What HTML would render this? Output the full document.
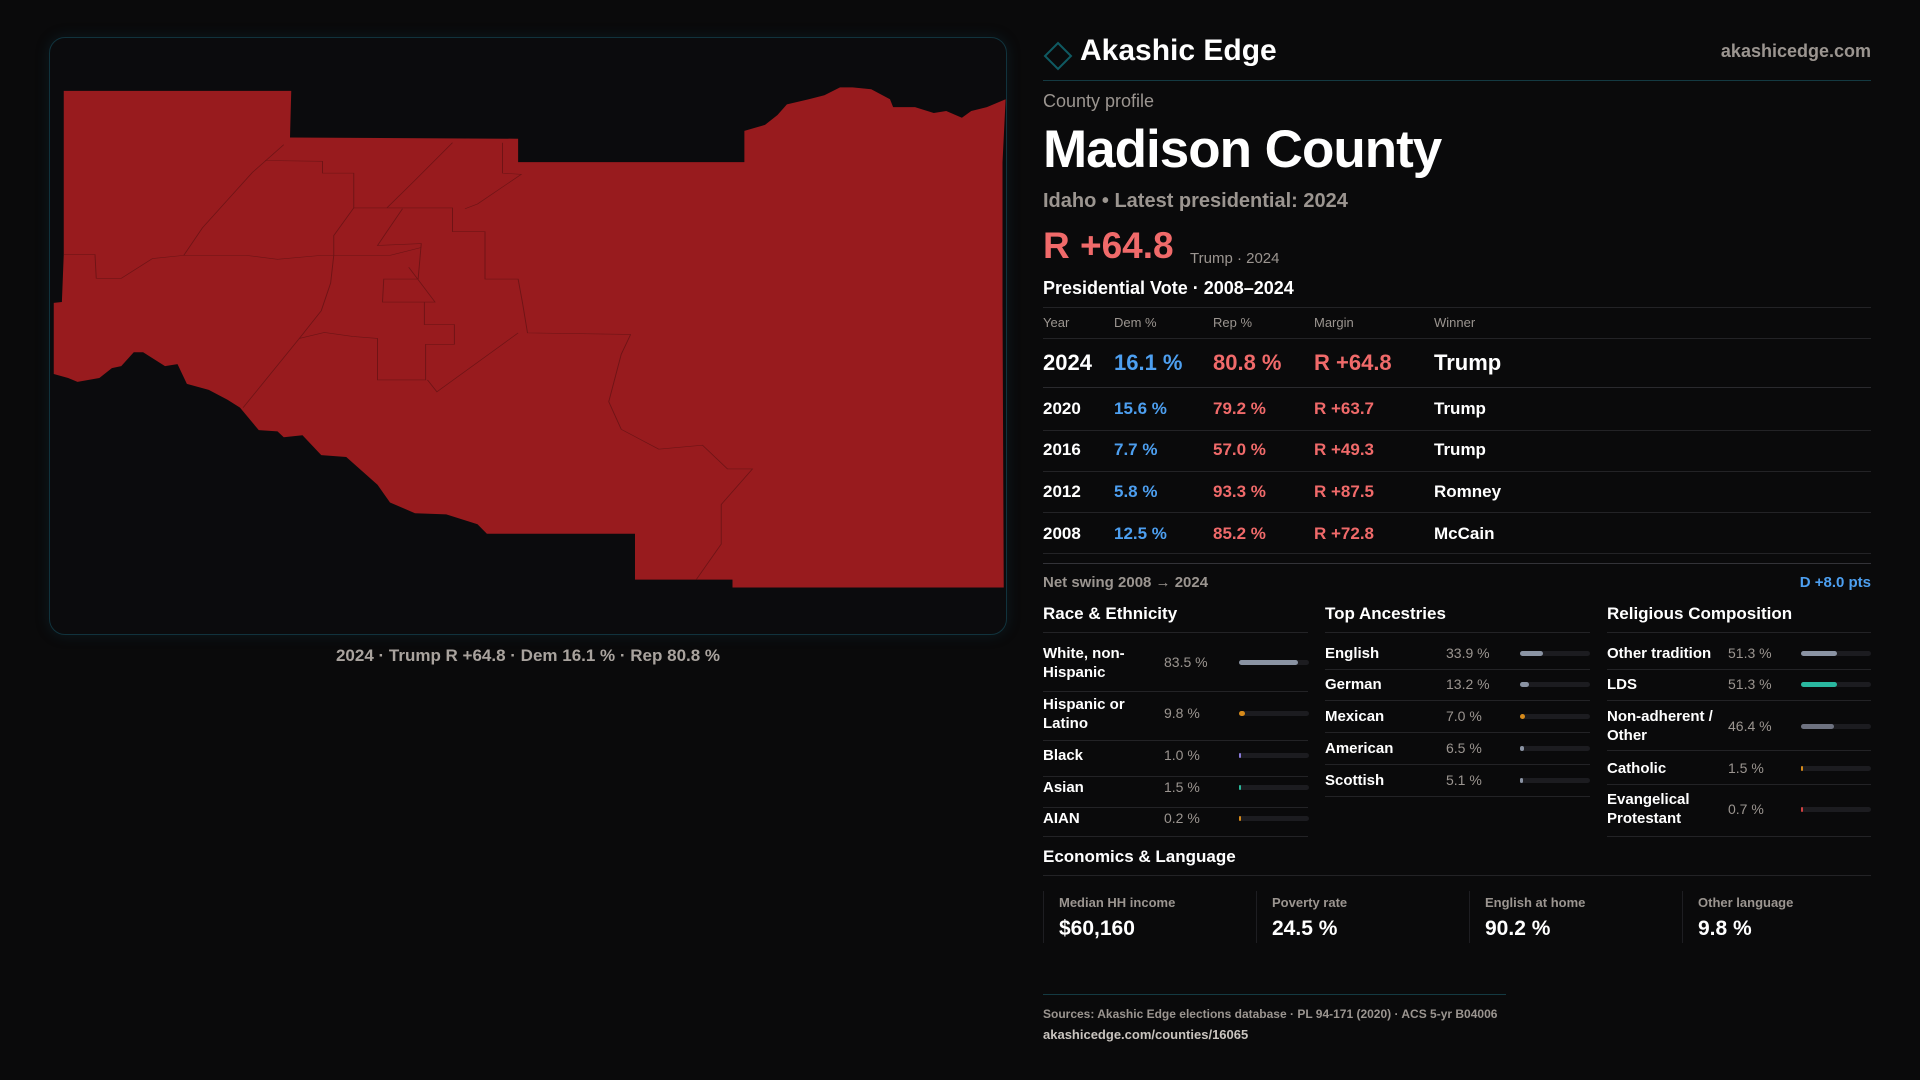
<!DOCTYPE html>
<html><head><meta charset="utf-8"><style>
*{margin:0;padding:0;box-sizing:border-box}
body{width:1920px;height:1080px;background:#0a0a0b;position:relative;overflow:hidden;font-family:"Liberation Sans",sans-serif;color:#fff}
.a{position:absolute;white-space:nowrap}
.g{color:#9b9590}
.r{color:#f06a6a}
.b{color:#4d9ff0}
.ln{position:absolute;height:1px;background:#232326}
.t{position:absolute;height:5px;border-radius:3px;background:#1c1c20;width:70px}
.f{position:absolute;left:0;top:0;height:5px;border-radius:3px}
.lab{font-size:15px;line-height:19px;font-weight:bold}
.val{font-size:14px;color:#9b9590}
</style></head><body>
<div class="a" style="left:49px;top:37px;width:958px;height:598px;border:1px solid #11333d;border-radius:16px;background:#0b0b0d;box-shadow:0 0 14px rgba(20,70,90,0.25)"></div>
<svg class="a" style="left:40px;top:30px" width="980" height="620" viewBox="0 0 1568 1568" preserveAspectRatio="none">
<path fill="#981b1e" d="M38,154 L402,154 L400,272 L765,275 L765,334 L1127,334 L1127,255 L1160,240 L1180,215 L1195,188 L1230,175 L1255,165 L1280,145 L1300,145 L1330,150 L1360,175 L1365,195 L1400,195 L1430,210 L1450,205 L1475,222 L1490,205 L1515,195 L1545,175 L1540,335 L1540,690 L1542,1410 L1108,1410 L1108,1390 L952,1390 L952,1274 L715,1274 L700,1250 L650,1225 L600,1222 L560,1195 L540,1150 L490,1080 L450,1075 L420,1025 L390,1030 L380,1015 L350,1012 L320,955 L300,935 L270,910 L235,895 L220,845 L200,850 L165,815 L150,815 L130,850 L115,855 L95,880 L60,890 L45,880 L22,870 L22,690 L35,688 L38,568 Z"/>
<g fill="none" stroke="#6e1416" stroke-width="1.5">
<path d="M38,568 L88,568 L90,628 L130,628 L180,578 L230,570 L330,570 L380,580 L450,570 L560,570 L610,550"/>
<path d="M230,570 L260,500 L300,430 L340,360 L390,290"/>
<path d="M360,330 L452,332 L452,362 L502,362 L502,450 L660,450 L660,510 L712,510 L712,630 L765,630 L772,690 L780,766 L945,770"/>
<path d="M502,450 L470,520 L470,570 L465,640 L450,710 L415,780 L325,955"/>
<path d="M580,452 L555,510 L540,545 L610,540 L605,630 L550,630 L548,688 L632,688 L590,600"/>
<path d="M615,688 L615,745 L663,745 L663,795 L617,795 L617,885 L540,885 L540,780 L500,775 L455,765 L415,780"/>
<path d="M765,766 L740,795 L635,915 L620,885"/>
<path d="M945,770 L930,820 L910,940 L930,1010 L990,1060 L1060,1050 L1100,1110 L1140,1110 L1090,1200 L1090,1300 L1050,1390"/>
<path d="M555,450 L600,380 L660,285 M740,285 L740,362 L770,365 L700,440 L680,452"/>
</g></svg>
<div class="a" style="left:0;width:1056px;top:646px;text-align:center;font-size:17px;font-weight:bold;color:#a9a39e">2024 · Trump R +64.8 · Dem 16.1 % · Rep 80.8 %</div>

<svg class="a" style="left:1043px;top:41px" width="30" height="30"><path d="M15,2 L28,15 L15,28 L2,15 Z" fill="none" stroke="#0f5a62" stroke-width="2"/></svg>
<div class="a" style="left:1080px;top:34px;font-size:30px;font-weight:bold">Akashic Edge</div>
<div class="a g" style="right:49px;top:41px;font-size:18px;font-weight:bold">akashicedge.com</div>
<div class="ln" style="left:1043px;width:828px;top:80px;background:#143a42"></div>
<div class="a g" style="left:1043px;top:91px;font-size:18px">County profile</div>
<div class="a" style="left:1043px;top:119px;font-size:53px;font-weight:bold;letter-spacing:-1px">Madison County</div>
<div class="a g" style="left:1043px;top:190px;font-size:20px;font-weight:bold">Idaho • Latest presidential: 2024</div>
<div class="a r" style="left:1043px;top:225px;font-size:37px;font-weight:bold">R +64.8</div>
<div class="a g" style="left:1190px;top:250px;font-size:15px">Trump · 2024</div>
<div class="a" style="left:1043px;top:278px;font-size:18px;font-weight:bold">Presidential Vote · 2008–2024</div>
<div class="ln" style="left:1043px;width:828px;top:307px"></div>
<div class="a g" style="left:1043px;top:315px;font-size:13px">Year</div>
<div class="a g" style="left:1114px;top:315px;font-size:13px">Dem %</div>
<div class="a g" style="left:1213px;top:315px;font-size:13px">Rep %</div>
<div class="a g" style="left:1314px;top:315px;font-size:13px">Margin</div>
<div class="a g" style="left:1434px;top:315px;font-size:13px">Winner</div>
<div class="ln" style="left:1043px;width:828px;top:338px"></div>
<div class="a" style="left:1043px;top:350px;font-size:22px;font-weight:bold">2024</div>
<div class="a b" style="left:1114px;top:350px;font-size:22px;font-weight:bold">16.1 %</div>
<div class="a r" style="left:1213px;top:350px;font-size:22px;font-weight:bold">80.8 %</div>
<div class="a r" style="left:1314px;top:350px;font-size:22px;font-weight:bold">R +64.8</div>
<div class="a" style="left:1434px;top:350px;font-size:22px;font-weight:bold">Trump</div>
<div class="ln" style="left:1043px;width:828px;top:387px;background:#2a2a2e"></div>

<div class="a" style="left:1043px;top:399px;font-size:17px;font-weight:bold">2020</div>
<div class="a b" style="left:1114px;top:399px;font-size:17px;font-weight:bold">15.6 %</div>
<div class="a r" style="left:1213px;top:399px;font-size:17px;font-weight:bold">79.2 %</div>
<div class="a r" style="left:1314px;top:399px;font-size:17px;font-weight:bold">R +63.7</div>
<div class="a" style="left:1434px;top:399px;font-size:17px;font-weight:bold">Trump</div>
<div class="ln" style="left:1043px;width:828px;top:430px"></div>
<div class="a" style="left:1043px;top:440px;font-size:17px;font-weight:bold">2016</div>
<div class="a b" style="left:1114px;top:440px;font-size:17px;font-weight:bold">7.7 %</div>
<div class="a r" style="left:1213px;top:440px;font-size:17px;font-weight:bold">57.0 %</div>
<div class="a r" style="left:1314px;top:440px;font-size:17px;font-weight:bold">R +49.3</div>
<div class="a" style="left:1434px;top:440px;font-size:17px;font-weight:bold">Trump</div>
<div class="ln" style="left:1043px;width:828px;top:471px"></div>
<div class="a" style="left:1043px;top:482px;font-size:17px;font-weight:bold">2012</div>
<div class="a b" style="left:1114px;top:482px;font-size:17px;font-weight:bold">5.8 %</div>
<div class="a r" style="left:1213px;top:482px;font-size:17px;font-weight:bold">93.3 %</div>
<div class="a r" style="left:1314px;top:482px;font-size:17px;font-weight:bold">R +87.5</div>
<div class="a" style="left:1434px;top:482px;font-size:17px;font-weight:bold">Romney</div>
<div class="ln" style="left:1043px;width:828px;top:512px"></div>
<div class="a" style="left:1043px;top:524px;font-size:17px;font-weight:bold">2008</div>
<div class="a b" style="left:1114px;top:524px;font-size:17px;font-weight:bold">12.5 %</div>
<div class="a r" style="left:1213px;top:524px;font-size:17px;font-weight:bold">85.2 %</div>
<div class="a r" style="left:1314px;top:524px;font-size:17px;font-weight:bold">R +72.8</div>
<div class="a" style="left:1434px;top:524px;font-size:17px;font-weight:bold">McCain</div>
<div class="ln" style="left:1043px;width:828px;top:553px"></div>
<div class="ln" style="left:1043px;width:828px;top:563px;background:#333338"></div>
<div class="a g" style="left:1043px;top:574px;font-size:15px;font-weight:bold">Net swing 2008 → 2024</div>
<div class="a b" style="right:49px;top:574px;font-size:15px;font-weight:bold">D +8.0 pts</div>

<div class="a" style="left:1043px;top:604px;font-size:17px;font-weight:bold">Race &amp; Ethnicity</div>
<div class="a" style="left:1325px;top:604px;font-size:17px;font-weight:bold">Top Ancestries</div>
<div class="a" style="left:1607px;top:604px;font-size:17px;font-weight:bold">Religious Composition</div>
<div class="ln" style="left:1043px;width:265px;top:632px"></div>
<div class="ln" style="left:1325px;width:265px;top:632px"></div>
<div class="ln" style="left:1607px;width:264px;top:632px"></div>

<div class="a lab" style="left:1043px;top:644px">White, non-<br>Hispanic</div><div class="a val" style="left:1164px;top:654px">83.5 %</div><div class="t" style="left:1239px;top:660px"><div class="f" style="width:59px;background:#8a93a3"></div></div>
<div class="ln" style="left:1043px;width:265px;top:691px"></div>
<div class="a lab" style="left:1043px;top:695px">Hispanic or<br>Latino</div><div class="a val" style="left:1164px;top:705px">9.8 %</div><div class="t" style="left:1239px;top:711px"><div class="f" style="width:6px;background:#d68a1a"></div></div>
<div class="ln" style="left:1043px;width:265px;top:740px"></div>
<div class="a lab" style="left:1043px;top:746px">Black</div><div class="a val" style="left:1164px;top:747px">1.0 %</div><div class="t" style="left:1239px;top:753px"><div class="f" style="width:2px;background:#8a7ad8"></div></div>
<div class="ln" style="left:1043px;width:265px;top:776px"></div>
<div class="a lab" style="left:1043px;top:778px">Asian</div><div class="a val" style="left:1164px;top:779px">1.5 %</div><div class="t" style="left:1239px;top:785px"><div class="f" style="width:2px;background:#2ab89a"></div></div>
<div class="ln" style="left:1043px;width:265px;top:807px"></div>
<div class="a lab" style="left:1043px;top:809px">AIAN</div><div class="a val" style="left:1164px;top:810px">0.2 %</div><div class="t" style="left:1239px;top:816px"><div class="f" style="width:2px;background:#d68a1a"></div></div>
<div class="ln" style="left:1043px;width:265px;top:836px"></div>

<div class="a lab" style="left:1325px;top:644px">English</div><div class="a val" style="left:1446px;top:645px">33.9 %</div><div class="t" style="left:1520px;top:651px"><div class="f" style="width:23px;background:#8a93a3"></div></div>
<div class="ln" style="left:1325px;width:265px;top:669px"></div>
<div class="a lab" style="left:1325px;top:675px">German</div><div class="a val" style="left:1446px;top:676px">13.2 %</div><div class="t" style="left:1520px;top:682px"><div class="f" style="width:9px;background:#8a93a3"></div></div>
<div class="ln" style="left:1325px;width:265px;top:700px"></div>
<div class="a lab" style="left:1325px;top:707px">Mexican</div><div class="a val" style="left:1446px;top:708px">7.0 %</div><div class="t" style="left:1520px;top:714px"><div class="f" style="width:5px;background:#d68a1a"></div></div>
<div class="ln" style="left:1325px;width:265px;top:732px"></div>
<div class="a lab" style="left:1325px;top:739px">American</div><div class="a val" style="left:1446px;top:740px">6.5 %</div><div class="t" style="left:1520px;top:746px"><div class="f" style="width:4px;background:#8a93a3"></div></div>
<div class="ln" style="left:1325px;width:265px;top:764px"></div>
<div class="a lab" style="left:1325px;top:771px">Scottish</div><div class="a val" style="left:1446px;top:772px">5.1 %</div><div class="t" style="left:1520px;top:778px"><div class="f" style="width:3px;background:#8a93a3"></div></div>
<div class="ln" style="left:1325px;width:265px;top:796px"></div>

<div class="a lab" style="left:1607px;top:644px">Other tradition</div><div class="a val" style="left:1728px;top:645px">51.3 %</div><div class="t" style="left:1801px;top:651px"><div class="f" style="width:36px;background:#8a93a3"></div></div>
<div class="ln" style="left:1607px;width:264px;top:669px"></div>
<div class="a lab" style="left:1607px;top:675px">LDS</div><div class="a val" style="left:1728px;top:676px">51.3 %</div><div class="t" style="left:1801px;top:682px"><div class="f" style="width:36px;background:#2ab8a0"></div></div>
<div class="ln" style="left:1607px;width:264px;top:700px"></div>
<div class="a lab" style="left:1607px;top:707px">Non-adherent /<br>Other</div><div class="a val" style="left:1728px;top:718px">46.4 %</div><div class="t" style="left:1801px;top:724px"><div class="f" style="width:33px;background:#6e7280"></div></div>
<div class="ln" style="left:1607px;width:264px;top:750px"></div>
<div class="a lab" style="left:1607px;top:759px">Catholic</div><div class="a val" style="left:1728px;top:760px">1.5 %</div><div class="t" style="left:1801px;top:766px"><div class="f" style="width:2px;background:#d68a1a"></div></div>
<div class="ln" style="left:1607px;width:264px;top:784px"></div>
<div class="a lab" style="left:1607px;top:790px">Evangelical<br>Protestant</div><div class="a val" style="left:1728px;top:801px">0.7 %</div><div class="t" style="left:1801px;top:807px"><div class="f" style="width:2px;background:#d04040"></div></div>
<div class="ln" style="left:1607px;width:264px;top:836px"></div>

<div class="a" style="left:1043px;top:847px;font-size:17px;font-weight:bold">Economics &amp; Language</div>
<div class="ln" style="left:1043px;width:828px;top:875px"></div>
<div class="a" style="left:1043px;top:891px;width:1px;height:52px;background:#1e1e22"></div>
<div class="a" style="left:1256px;top:891px;width:1px;height:52px;background:#1e1e22"></div>
<div class="a" style="left:1469px;top:891px;width:1px;height:52px;background:#1e1e22"></div>
<div class="a" style="left:1682px;top:891px;width:1px;height:52px;background:#1e1e22"></div>
<div class="a g" style="left:1059px;top:895px;font-size:13px;font-weight:bold">Median HH income</div>
<div class="a" style="left:1059px;top:917px;font-size:21px;font-weight:bold">$60,160</div>
<div class="a g" style="left:1272px;top:895px;font-size:13px;font-weight:bold">Poverty rate</div>
<div class="a" style="left:1272px;top:917px;font-size:21px;font-weight:bold">24.5 %</div>
<div class="a g" style="left:1485px;top:895px;font-size:13px;font-weight:bold">English at home</div>
<div class="a" style="left:1485px;top:917px;font-size:21px;font-weight:bold">90.2 %</div>
<div class="a g" style="left:1698px;top:895px;font-size:13px;font-weight:bold">Other language</div>
<div class="a" style="left:1698px;top:917px;font-size:21px;font-weight:bold">9.8 %</div>

<div class="ln" style="left:1043px;width:463px;top:994px;background:#143a42"></div>
<div class="a g" style="left:1043px;top:1007px;font-size:12px;font-weight:bold">Sources: Akashic Edge elections database · PL 94-171 (2020) · ACS 5-yr B04006</div>
<div class="a" style="left:1043px;top:1027px;font-size:13px;font-weight:bold;color:#c9c4bf">akashicedge.com/counties/16065</div>
</body></html>
